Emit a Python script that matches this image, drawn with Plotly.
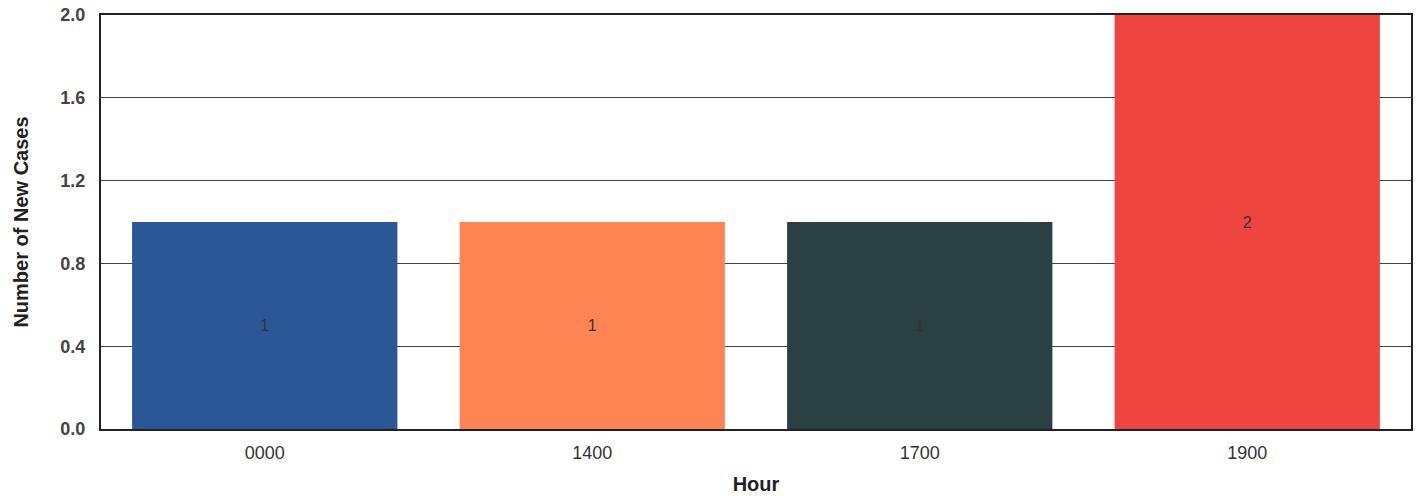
import plotly.graph_objects as go

hours = ["0000", "1400", "1700", "1900"]
new_cases = [1, 1, 1, 2]
bar_colors = ["#2B5797", "#FF8454", "#2A4043", "#EE4540"]
y_ticks = [0.0, 0.4, 0.8, 1.2, 1.6, 2.0]
y_tick_labels = ["0.0", "0.4", "0.8", "1.2", "1.6", "2.0"]

fig = go.Figure(
    go.Bar(
        x=hours,
        y=new_cases,
        marker=dict(color=bar_colors, line=dict(width=0)),
        text=[str(v) for v in new_cases],
        textposition="inside",
        insidetextanchor="middle",
        textangle=0,
        textfont=dict(family="Arial, Liberation Sans", size=16, color="#333333"),
        hoverinfo="x+y",
    )
)

fig.update_layout(
    width=1421,
    height=496,
    margin=dict(l=101, r=10, t=15, b=67),
    paper_bgcolor="white",
    plot_bgcolor="white",
    bargap=0.19,
    showlegend=False,
    font=dict(family="Arial, Liberation Sans", color="#333333"),
)

fig.update_xaxes(
    type="category",
    automargin=False,
    title=dict(text="<b>Hour</b>", font=dict(size=20, color="#222222"), standoff=15),
    tickfont=dict(size=18, color="#333333"),
    ticklabelstandoff=6,
    showline=True,
    linecolor="#222222",
    linewidth=2,
    mirror=True,
    ticks="",
    showgrid=False,
)

fig.update_yaxes(
    range=[0, 2.0],
    automargin=False,
    tickvals=y_ticks,
    ticktext=["<b>%s</b>" % t for t in y_tick_labels],
    tickfont=dict(size=18, color="#444444"),
    ticklabelstandoff=10,
    title=dict(text="<b>Number of New Cases</b>", font=dict(size=20, color="#222222"), standoff=26),
    showline=True,
    linecolor="#222222",
    linewidth=2,
    mirror=True,
    showgrid=True,
    gridcolor="#444444",
    gridwidth=1.2,
    zeroline=False,
    ticks="",
)

fig.write_html("out.html")
